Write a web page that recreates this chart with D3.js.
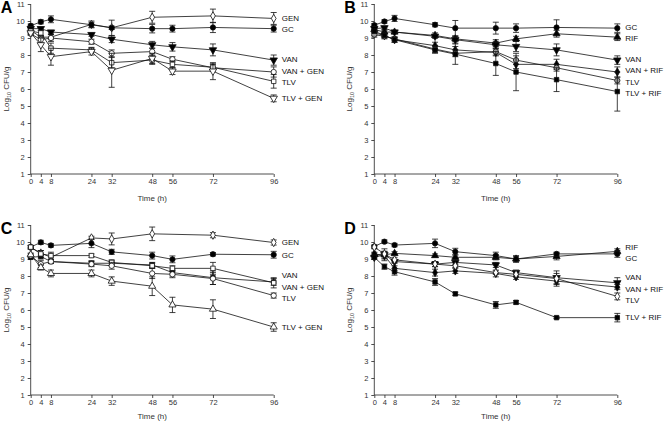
<!DOCTYPE html>
<html>
<head>
<meta charset="utf-8">
<script src="https://cdn.jsdelivr.net/npm/d3@7"></script>
<style>
  body { margin: 0; background: #fff; }
  svg { font-family: "Liberation Sans", Arial, sans-serif; }
  .tick-label { font-size: 7.5px; fill: #333; }
  .series-label { font-size: 8px; fill: #111; }
  .axis-title { font-size: 8px; fill: #333; }
  .panel-letter { font-size: 16px; font-weight: bold; }
</style>
</head>
<body>
<script>
// time points (h) and y ticks
const hours = [0, 4, 8, 24, 32, 48, 56, 72, 96];
const hoursNo56 = [0, 4, 8, 24, 32, 48, 72, 96];
const yTicks = [1, 2, 3, 4, 5, 6, 7, 8, 9, 10, 11];

// Panel A
const aGEN = [9.45, 9.05, 9.05, 9.8, 9.6, 10.22, 10.3, 10.15];
const aGENerr = [0.1, 0.1, 0.15, 0.2, 0.45, 0.35, 0.4, 0.35];
const aGC = [9.72, 9.95, 10.1, 9.78, 9.6, 9.55, 9.55, 9.62, 9.55];
const aGCerr = [0.1, 0.12, 0.2, 0.15, 0.1, 0.25, 0.2, 0.3, 0.2];
const aVAN = [9.55, 9.55, 9.35, 9.2, 8.93, 8.6, 8.48, 8.3, 7.7];
const aVANerr = [0.1, 0.1, 0.1, 0.1, 0.2, 0.2, 0.25, 0.35, 0.3];
const aVANGEN = [9.25, 8.9, 9.0, 8.78, 8.1, 8.2, 7.75, 7.25, 7.0];
const aVANGENerr = [0.1, 0.2, 0.2, 0.15, 0.2, 0.2, 0.15, 0.2, 0.3];
const aTLV = [9.4, 9.3, 8.4, 8.3, 7.55, 7.7, 7.45, 7.28, 6.45];
const aTLVerr = [0.1, 0.15, 0.3, 0.15, 0.3, 0.25, 0.2, 0.2, 0.4];
const aTLVGEN = [9.3, 8.6, 7.9, 8.2, 7.1, 7.8, 7.05, 7.05, 5.45];
const aTLVGENerr = [0.1, 0.4, 0.5, 0.2, 1.0, 0.3, 0.2, 0.5, 0.2];

// Panel B
const bGC = [9.75, 9.97, 10.15, 9.78, 9.58, 9.58, 9.58, 9.62, 9.58];
const bGCerr = [0.1, 0.1, 0.18, 0.12, 0.45, 0.35, 0.25, 0.45, 0.25];
const bRIF = [9.5, 9.35, 9.35, 9.15, 8.95, 8.7, 8.95, 9.25, 9.05];
const bRIFerr = [0.1, 0.1, 0.1, 0.15, 0.15, 0.2, 0.15, 0.2, 0.2];
const bVAN = [9.55, 9.6, 9.35, 9.1, 8.9, 8.6, 8.5, 8.3, 7.7];
const bVANerr = [0.1, 0.1, 0.1, 0.1, 0.2, 0.2, 0.3, 0.35, 0.25];
const bVANRIF = [9.3, 9.15, 8.9, 8.55, 8.3, 8.15, 7.45, 7.45, 7.0];
const bVANRIFerr = [0.15, 0.15, 0.15, 0.2, 0.2, 0.2, 0.25, 0.3, 0.3];
const bTLV = [9.2, 9.1, 8.95, 8.35, 8.1, 8.2, 7.7, 7.25, 6.5];
const bTLVerr = [0.15, 0.15, 0.1, 0.2, 0.2, 0.2, 0.25, 0.2, 0.2];
const bTLVRIF = [9.4, 9.15, 8.9, 8.3, 8.05, 7.5, 7.0, 6.55, 5.85];
const bTLVRIFerr = [0.1, 0.1, 0.15, 0.2, 0.6, 0.7, 1.1, 0.7, 1.15];

// Panel C
const cGEN = [9.68, 9.35, 9.1, 10.24, 10.18, 10.48, 10.4, 9.97];
const cGENerr = [0.1, 0.15, 0.2, 0.1, 0.35, 0.4, 0.15, 0.15];
const cGC = [9.7, 9.98, 9.8, 9.92, 9.42, 9.2, 8.98, 9.28, 9.25];
const cGCerr = [0.1, 0.12, 0.1, 0.25, 0.15, 0.2, 0.2, 0.1, 0.2];
const cVAN = [9.1, 9.15, 8.85, 8.75, 8.75, 8.65, 8.2, 7.9, 7.65];
const cVANerr = [0.1, 0.15, 0.1, 0.15, 0.15, 0.15, 0.2, 0.4, 0.2];
const cVANGEN = [9.7, 9.3, 9.2, 9.2, 8.8, 8.6, 8.45, 8.45, 7.6];
const cVANGENerr = [0.1, 0.2, 0.2, 0.1, 0.15, 0.15, 0.15, 0.35, 0.3];
const cTLV = [9.2, 8.7, 8.85, 8.7, 8.6, 8.15, 8.1, 7.85, 6.85];
const cTLVerr = [0.1, 0.2, 0.1, 0.15, 0.2, 0.3, 0.2, 0.35, 0.15];
const cTLVGEN = [9.25, 8.5, 8.15, 8.15, 7.7, 7.4, 6.3, 6.05, 5.0];
const cTLVGENerr = [0.1, 0.15, 0.2, 0.2, 0.25, 0.55, 0.45, 0.55, 0.25];

// Panel D
const dRIF = [9.25, 9.25, 9.33, 9.2, 9.1, 9.1, 9.0, 9.15, 9.45];
const dRIFerr = [0.1, 0.35, 0.1, 0.1, 0.15, 0.15, 0.15, 0.2, 0.15];
const dGC = [9.73, 10.02, 9.82, 9.92, 9.43, 9.2, 9.0, 9.3, 9.3];
const dGCerr = [0.1, 0.1, 0.1, 0.25, 0.2, 0.2, 0.2, 0.1, 0.2];
const dVAN = [9.1, 9.25, 8.85, 8.7, 8.8, 8.65, 8.2, 7.9, 7.6];
const dVANerr = [0.1, 0.2, 0.1, 0.15, 0.15, 0.15, 0.15, 0.4, 0.3];
const dVANRIF = [9.3, 9.2, 8.45, 8.2, 8.3, 8.15, 7.95, 7.7, 7.35];
const dVANRIFerr = [0.1, 0.2, 0.15, 0.2, 0.15, 0.2, 0.15, 0.3, 0.15];
const dTLV = [9.7, 9.3, 8.95, 8.7, 8.6, 8.2, 8.1, 7.85, 6.8];
const dTLVerr = [0.1, 0.15, 0.15, 0.15, 0.1, 0.1, 0.15, 0.3, 0.2];
const dTLVRIF = [9.1, 8.55, 8.25, 7.65, 6.95, 6.3, 6.45, 5.55, 5.55];
const dTLVRIFerr = [0.1, 0.15, 0.2, 0.2, 0.1, 0.2, 0.1, 0.05, 0.25];

// build series tables (label, times, values, errors, symbol, fill)
const S = (label, t, v, e, sym, fill) => ({ label, t, v, e, sym, fill });
const panels = [
  { letter: 'A', ox: 30.7, oy: 4, titleY: 27, series: [
    S('GEN', hoursNo56, aGEN, aGENerr, d3.symbolDiamond, 'white'),
    S('GC', hours, aGC, aGCerr, d3.symbolCircle, 'black'),
    S('VAN', hours, aVAN, aVANerr, 'down', 'black'),
    S('VAN + GEN', hours, aVANGEN, aVANGENerr, d3.symbolCircle, 'white'),
    S('TLV', hours, aTLV, aTLVerr, d3.symbolSquare, 'white'),
    S('TLV + GEN', hours, aTLVGEN, aTLVGENerr, 'down', 'white')
  ]},
  { letter: 'B', ox: 374.3, oy: 4, titleY: 27, series: [
    S('GC', hours, bGC, bGCerr, d3.symbolCircle, 'black'),
    S('RIF', hours, bRIF, bRIFerr, d3.symbolTriangle, 'black'),
    S('VAN', hours, bVAN, bVANerr, 'down', 'black'),
    S('VAN + RIF', hours, bVANRIF, bVANRIFerr, d3.symbolDiamond, 'black'),
    S('TLV', hours, bTLV, bTLVerr, d3.symbolCircle, '#999'),
    S('TLV + RIF', hours, bTLVRIF, bTLVRIFerr, d3.symbolSquare, 'black')
  ]},
  { letter: 'C', ox: 30.7, oy: 225, titleY: 23.5, series: [
    S('GEN', hoursNo56, cGEN, cGENerr, d3.symbolDiamond, 'white'),
    S('GC', hours, cGC, cGCerr, d3.symbolCircle, 'black'),
    S('VAN', hours, cVAN, cVANerr, d3.symbolSquare, 'black'),
    S('VAN + GEN', hours, cVANGEN, cVANGENerr, d3.symbolSquare, 'white'),
    S('TLV', hours, cTLV, cTLVerr, d3.symbolCircle, 'white'),
    S('TLV + GEN', hours, cTLVGEN, cTLVGENerr, d3.symbolTriangle, 'white')
  ]},
  { letter: 'D', ox: 374.3, oy: 225, titleY: 23.5, series: [
    S('RIF', hours, dRIF, dRIFerr, d3.symbolTriangle, 'black'),
    S('GC', hours, dGC, dGCerr, d3.symbolCircle, 'black'),
    S('VAN', hours, dVAN, dVANerr, 'down', 'black'),
    S('VAN + RIF', hours, dVANRIF, dVANRIFerr, d3.symbolDiamond, 'black'),
    S('TLV', hours, dTLV, dTLVerr, d3.symbolDiamond, 'white'),
    S('TLV + RIF', hours, dTLVRIF, dTLVRIFerr, d3.symbolSquare, 'black')
  ]}
];

const W = 664, H = 422;
const plotW = 243, plotH = 170;

const svg = d3.select('body').append('svg')
  .attr('width', W)
  .attr('height', H);

function symbolPath(sym) {
  if (sym === 'down') return d3.symbol(d3.symbolTriangle).size(24)();
  const size = sym === d3.symbolSquare ? 20 : sym === d3.symbolDiamond ? 20 : 22;
  return d3.symbol(sym).size(size)();
}

panels.forEach((p) => {
  const x = d3.scaleLinear().domain([0, 96]).range([0, plotW]);
  const y = d3.scaleLinear().domain([1, 11]).range([plotH, 0]);
  const g = svg.append('g').attr('transform', `translate(${p.ox},${p.oy})`);

  // y axis
  const yAxis = d3.axisLeft(y).tickValues(yTicks).tickSize(3).tickPadding(3);
  const ya = g.append('g').attr('class', 'y-axis').call(yAxis);
  // x axis
  const xAxis = d3.axisBottom(x).tickValues(hours).tickSize(3).tickPadding(2);
  const xa = g.append('g').attr('transform', `translate(0,${plotH})`).call(xAxis);
  [ya, xa].forEach((a) => {
    a.select('.domain').attr('stroke', '#222').attr('stroke-width', 0.8)
      .attr('d', a === ya ? `M0,0V${plotH}` : `M0,0H${plotW}`);
    a.selectAll('.tick line').attr('stroke', '#222').attr('stroke-width', 0.8);
    a.selectAll('.tick text').attr('class', 'tick-label').attr('font-family', null).attr('font-size', null);
  });
  xa.selectAll('.tick text').attr('dy', '0.71em');

  // axis titles
  g.append('text').attr('class', 'axis-title')
    .attr('x', plotW / 2).attr('y', plotH + p.titleY)
    .attr('text-anchor', 'middle').text('Time (h)');
  const yt = g.append('text').attr('class', 'axis-title')
    .attr('transform', `translate(-22,${plotH / 2}) rotate(-90)`)
    .attr('text-anchor', 'middle');
  yt.append('tspan').text('Log');
  yt.append('tspan').attr('font-size', 5.5).attr('dy', 2).text('10');
  yt.append('tspan').attr('dy', -2).text(' CFU/g');

  // panel letter
  svg.append('text').attr('class', 'panel-letter')
    .attr('x', p.ox - 30).attr('y', p.oy + 9)
    .text(p.letter);

  const line = d3.line().x((d) => x(d[0])).y((d) => y(d[1]));

  // lines first
  p.series.forEach((s) => {
    const pts = s.t.map((t, i) => [t, s.v[i]]);
    g.append('path').attr('d', line(pts))
      .attr('fill', 'none').attr('stroke', '#111').attr('stroke-width', 0.8);
  });
  // error bars and markers
  p.series.forEach((s) => {
    const sg = g.append('g');
    s.t.forEach((t, i) => {
      const cx = x(t), lo = y(s.v[i] - s.e[i]), hi = y(s.v[i] + s.e[i]);
      sg.append('path')
        .attr('d', `M${cx},${lo}V${hi}M${cx - 3},${lo}H${cx + 3}M${cx - 3},${hi}H${cx + 3}`)
        .attr('stroke', '#111').attr('stroke-width', 0.8).attr('fill', 'none');
    });
    sg.selectAll('path.mk').data(s.t.map((t, i) => [t, s.v[i]])).join('path')
      .attr('class', 'mk')
      .attr('d', symbolPath(s.sym))
      .attr('transform', (d) => `translate(${x(d[0])},${y(d[1])})${s.sym === 'down' ? ' rotate(180)' : ''}`)
      .attr('fill', s.fill).attr('stroke', '#111').attr('stroke-width', 0.8);
  });

  // end labels, spread apart so they do not overlap
  const labs = p.series.map((s) => ({ label: s.label, yy: y(s.v[s.v.length - 1]) }));
  labs.sort((a, b) => a.yy - b.yy);
  const gap = 11.5;
  for (let k = 0; k < 100; k++) {
    for (let i = 1; i < labs.length; i++) {
      const d = labs[i].yy - labs[i - 1].yy;
      if (d < gap) {
        const m = (gap - d) / 2;
        labs[i].yy += m;
        labs[i - 1].yy -= m;
      }
    }
  }
  g.selectAll('text.series-label').data(labs).join('text')
    .attr('class', 'series-label')
    .attr('x', plotW + 8).attr('y', (d) => d.yy)
    .attr('dy', '0.35em')
    .text((d) => d.label);
});
</script>
</body>
</html>
